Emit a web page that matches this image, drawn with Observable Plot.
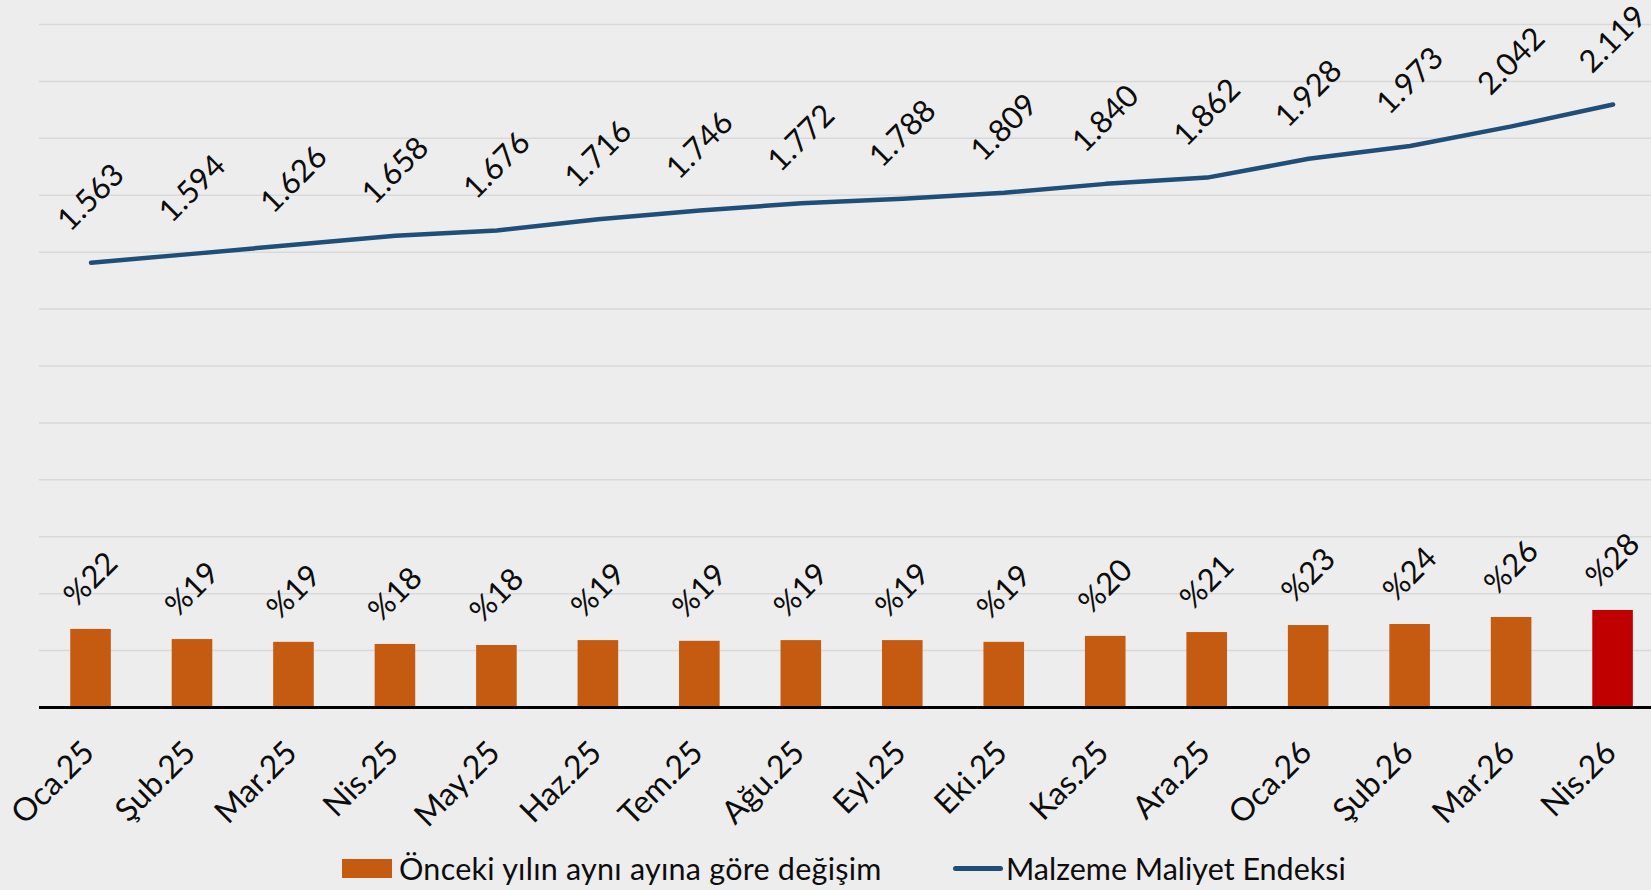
<!DOCTYPE html>
<html>
<head>
<meta charset="utf-8">
<script src="https://cdn.jsdelivr.net/npm/d3@7"></script>
<script src="https://cdn.jsdelivr.net/npm/@observablehq/plot@0.6"></script>
<style>
  html, body { margin: 0; padding: 0; background: #ededed; }
  #wrap { position: relative; width: 1651px; height: 890px; overflow: hidden; background: #ededed; font-family: Lato, "Open Sans", sans-serif; color: #0d0d0d; }
  #chart svg { display: block; }
  .legend { position: absolute; top: 848px; left: 0; width: 1651px; height: 40px; font-size: 30.5px; }
  .legend .item { position: absolute; top: 0; height: 40px; display: flex; align-items: center; white-space: nowrap; }
  .sw-bar { width: 50px; height: 19px; background: #c55a11; margin-right: 7px; }
  .sw-line { width: 50px; height: 5px; background: #1f4e79; border-radius: 3px; margin-right: 3px; }
</style>
</head>
<body>
<div id="wrap">
  <div id="chart"></div>
  <div class="legend">
    <div class="item" style="left:342px"><div class="sw-bar"></div><span style="letter-spacing:0.25px">Önceki yılın aynı ayına göre değişim</span></div>
    <div class="item" style="left:953px"><div class="sw-line"></div><span>Malzeme Maliyet Endeksi</span></div>
  </div>
</div>
<script>
// Categories (months)
const months = ["Oca.25","Şub.25","Mar.25","Nis.25","May.25","Haz.25","Tem.25","Ağu.25","Eyl.25","Eki.25","Kas.25","Ara.25","Oca.26","Şub.26","Mar.26","Nis.26"];
// Malzeme Maliyet Endeksi (primary axis)
const indexValues = [1563,1594,1626,1658,1676,1716,1746,1772,1788,1809,1840,1862,1928,1973,2042,2119];
// Önceki yılın aynı ayına göre değişim (secondary axis, fraction)
const yoyValues = [0.223,0.194,0.186,0.180,0.177,0.191,0.189,0.191,0.191,0.186,0.203,0.214,0.234,0.237,0.257,0.277];
// Axis settings
const primaryMax = 2400;
const secondaryMax = 1.95;
const gridTicks = [200,400,600,800,1000,1200,1400,1600,1800,2000,2200,2400];

const k = primaryMax / secondaryMax;
const rows = months.map((m, i) => ({
  month: m,
  idx: indexValues[i],
  yoy: yoyValues[i],
  yoyScaled: yoyValues[i] * k,
  idxLabel: Math.floor(indexValues[i] / 1000) + "." + String(indexValues[i] % 1000).padStart(3, "0"),
  yoyLabel: "%" + Math.round(yoyValues[i] * 100),
  color: i === months.length - 1 ? "#c00000" : "#c55a11"
}));

const W = 1651, H = 840;
const chart = Plot.plot({
  width: W,
  height: H,
  marginTop: 24,
  marginBottom: H - 707,
  marginLeft: 39,
  marginRight: 0,
  style: { background: "#ededed", fontFamily: "Lato, 'Open Sans', sans-serif", overflow: "visible" },
  x: { type: "band", domain: months, range: [39.8, 1663.3], paddingInner: 0.6, paddingOuter: 0.3, round: false, axis: null },
  y: { domain: [0, primaryMax], axis: null },
  color: { type: "identity" },
  marks: [
    Plot.gridY(gridTicks, { stroke: "#d9d9d9", strokeOpacity: 1, strokeWidth: 1.5 }),
    Plot.barY(rows, { x: "month", y: "yoyScaled", fill: "color" }),
    Plot.ruleY([0], { stroke: "#000", strokeWidth: 3 }),
    Plot.line(rows, { x: "month", y: "idx", stroke: "#1f4e79", strokeWidth: 4.5, strokeLinecap: "round", strokeLinejoin: "round" }),
    Plot.text(rows, { x: "month", y: "idx", text: "idxLabel", rotate: -45, dy: -65, textAnchor: "middle", lineAnchor: "middle", fontSize: 31, fill: "#0d0d0d" }),
    Plot.text(rows, { x: "month", y: "yoyScaled", text: "yoyLabel", rotate: -45, dy: -50, textAnchor: "middle", lineAnchor: "middle", fontSize: 31, fill: "#0d0d0d" }),
    Plot.text(rows, { x: "month", y: () => 0, text: "month", rotate: -45, dx: 5, dy: 47, textAnchor: "end", lineAnchor: "bottom", fontSize: 32, fill: "#0d0d0d" })
  ]
});
document.getElementById("chart").appendChild(chart);
</script>
</body>
</html>
